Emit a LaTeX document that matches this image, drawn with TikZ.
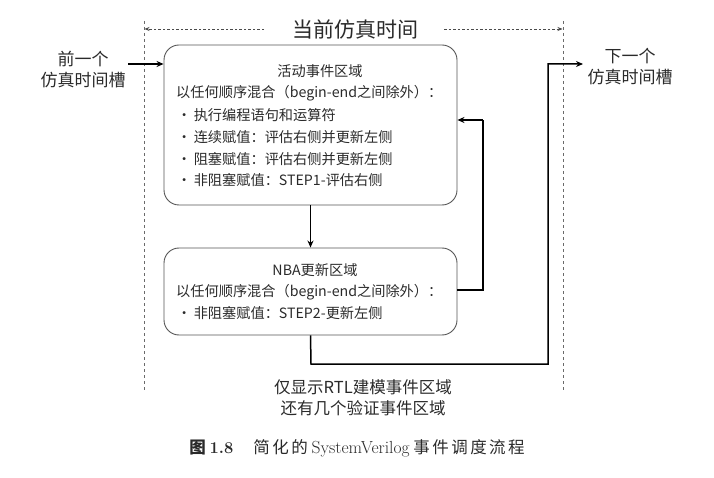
\documentclass[tikz,border=0pt]{standalone}
\usepackage{fontspec}
\setmainfont{Noto Sans CJK SC}
\newfontfamily\capser{Latin Modern Roman}
\newfontfamily\capcjk[LetterSpace=15]{Noto Sans CJK SC}
\usetikzlibrary{arrows.meta}
\definecolor{txt}{HTML}{2A2A2A}
\definecolor{boxc}{HTML}{555555}
\definecolor{dashc}{HTML}{6A6A6A}
\tikzset{
  regionbox/.style={draw=boxc, line width=0.9pt, rounded corners=15pt, minimum width=293pt, inner sep=0pt},
  line/.style={anchor=west, inner sep=0pt, font=\fontsize{14.2}{16}\selectfont, text=txt},
  cline/.style={inner sep=0pt, font=\fontsize{14.2}{16}\selectfont, text=txt},
  sidelbl/.style={align=center, inner sep=0pt, font=\fontsize{17}{21}\selectfont, text=txt},
  arr/.style={line width=1.5pt, -{Stealth[length=7pt,width=6pt]}},
  flow/.style={line width=1.5pt},
  vdash/.style={dashc, dash pattern=on 3pt off 3pt, line width=0.8pt},
  darr/.style={dashc!70!black, dash pattern=on 2.5pt off 2pt, line width=0.7pt, -{Stealth[length=5pt,width=4pt]}}
}
\begin{document}
\begin{tikzpicture}[x=1pt,y=-1pt]
\useasboundingbox (0,0) rectangle (714,478);
% dashed boundaries
\coordinate (lt) at (144,21); \coordinate (lb) at (144,392);
\coordinate (rt) at (563,21); \coordinate (rb) at (563,392);
\draw[vdash] (lt) -- (lb);
\draw[vdash] (rt) -- (rb);
\node[inner sep=0pt, font=\fontsize{21}{24}\selectfont, text=txt] (title) at (355,29) {当前仿真时间};
\coordinate (tl) at (144.5,29); \coordinate (tr) at (562.5,29);
\coordinate (tls) at (264,29); \coordinate (trs) at (444,29);
\draw[darr] (tls) -- (tl);
\draw[darr] (trs) -- (tr);
% side labels
\node[sidelbl] (prev) at (83,70) {前一个\\仿真时间槽};
\node[sidelbl] (next) at (630,67) {下一个\\仿真时间槽};
% boxes
\node[regionbox, minimum height=160pt] (act) at (310.5,125) {};
\node[regionbox, minimum height=87pt] (nba) at (310.5,291.5) {};
% active box text
\node[cline] (a0) at (320,71) {活动事件区域};
\node[line] (a1) at (176,93) {以任何顺序混合（begin-end之间除外）：};
\node[line] (a2) at (177,115) {·\,执行编程语句和运算符};
\node[line] (a3) at (177,137) {·\,连续赋值：评估右侧并更新左侧};
\node[line] (a4) at (177,159) {·\,阻塞赋值：评估右侧并更新左侧};
\node[line] (a5) at (177,180) {·\,非阻塞赋值：STEP1-评估右侧};
% nba box text
\node[cline] (n0) at (315,270) {NBA更新区域};
\node[line] (n1) at (176,292) {以任何顺序混合（begin-end之间除外）：};
\node[line] (n2) at (177,313) {·\,非阻塞赋值：STEP2-更新左侧};
% connectors
\coordinate (inS) at (128,64);
\draw[arr] (inS) -- (inS -| act.west);
\draw[arr] (act.south) -- (nba.north);
\coordinate (fb1) at (483,290); \coordinate (fb2) at (483,120);
\draw[flow] (nba.east |- fb1) -- (fb1) -- (fb2);
\draw[arr] (fb2) -- (fb2 -| act.east);
\coordinate (o1) at (311,364); \coordinate (o2) at (548,364); \coordinate (o3) at (548,64); \coordinate (o4) at (583,64);
\draw[arr] (nba.south) -- (o1) -- (o2) -- (o3) -- (o4);
% bottom text
\node[align=center, inner sep=0pt, font=\fontsize{16.5}{21}\selectfont, text=txt] (note) at (363,398) {仅显示RTL建模事件区域\\还有几个验证事件区域};
\node[inner sep=0pt, font=\fontsize{16.5}{18}\selectfont, text=txt] (cap) at (357,448) {\textbf{图 {\capser 1.8}}\quad\ {\capcjk 简化的} {\capser\fontsize{17.5}{18}\selectfont SystemVerilog} {\capcjk 事件调度流程}};
\end{tikzpicture}
\end{document}
